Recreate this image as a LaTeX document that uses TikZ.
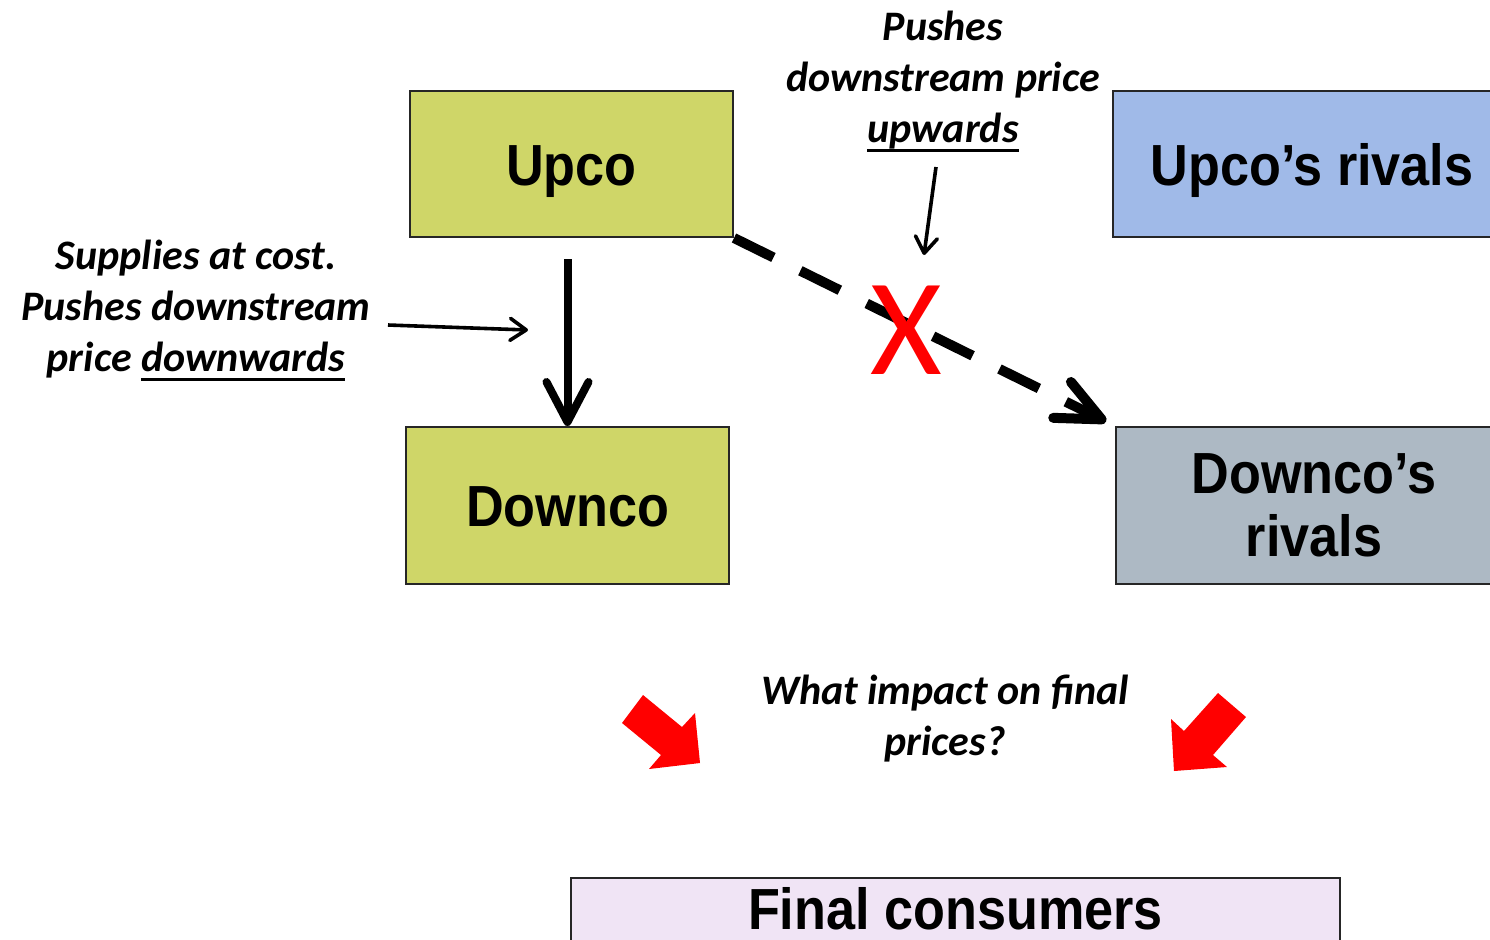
\documentclass[tikz,border=0pt]{standalone}
\usepackage{fontspec}
\usetikzlibrary{arrows.meta}
\newfontfamily\boxfont[FakeStretch=0.9]{Liberation Sans}
\newfontfamily\notefont{Carlito}
% thick underline used in the italic notes
\newcommand\undl[1]{\setbox0\hbox{#1}\rlap{\raisebox{-4.75pt}{\rule{\wd0}{1.5pt}}}\box0}
\definecolor{firmgreen}{HTML}{CFD668}
\definecolor{rivalblue}{HTML}{A0BAE8}
\definecolor{rivalgrey}{HTML}{ADB9C4}
\definecolor{consumerlilac}{HTML}{F0E4F5}
\begin{document}
\begin{tikzpicture}[x=0.5pt,y=-0.5pt,
  firm/.style={draw=black!85, line width=1pt, inner sep=0pt, align=center,
    font=\boxfont\bfseries\fontsize{29pt}{31.5pt}\selectfont},
  oneline/.style={text height=21pt, text depth=0pt},
  note/.style={inner sep=0pt, align=center,
    font=\notefont\bfseries\itshape\fontsize{21pt}{25.5pt}\selectfont},
  bigarrow/.style={line width=4pt,
    -{Straight Barb[round,length=20pt,width=21pt]}},
  dasharrow/.style={line width=5pt, dash pattern=on 22pt off 15pt,
    -{Straight Barb[round,length=22pt,width=20pt]}},
  thinarrow/.style={line width=1.8pt,
    -{Straight Barb[round,length=8pt,width=11pt]}},
  blockarrow/.style={fill=red}
]
\clip (0,0) rectangle (1490,939);

% firms and consumers
\node[firm, oneline, fill=firmgreen, minimum width=161.5pt, minimum height=73pt]
  (upco) at (571.5,164) {Upco};
\node[firm, oneline, fill=firmgreen, minimum width=161.5pt, minimum height=78.5pt]
  (downco) at (567.5,505.5) {Downco};
\node[firm, oneline, fill=rivalblue, minimum width=199pt, minimum height=73pt]
  (urivals) at (1312,164) {Upco’s rivals};
\node[firm, fill=rivalgrey, minimum width=198pt, minimum height=78.5pt]
  (drivals) at (1314,505.5) {Downco’s\\rivals};
\node[firm, fill=consumerlilac, text height=21pt, text depth=10pt,
  minimum width=384.5pt, minimum height=40pt]
  (consumers) at (955.5,918) {Final consumers};

% notes
\node[note] (upnote) at (943,82)
  {Pushes\\downstream price\\\undl{upwards}};
\node[note] (downnote) at (196,311)
  {Supplies at cost.\\Pushes downstream\\price \undl{downwards}};
\node[note] (question) at (945,719)
  {What impact on final\\prices?};

% supply links
\draw[bigarrow, shorten <=10.5pt] (downco.north |- upco.south) -- (downco.north);
\draw[dasharrow, shorten >=5pt] (upco.south east) -- (drivals.north west);

\node[text=red, inner sep=0pt, font=\notefont\fontsize{69pt}{69pt}\selectfont]
  (cross) at (906,330) {X};

% pointers from the notes
\coordinate (downfrom) at (388,325);
\coordinate (downto) at (528,330);
\draw[thinarrow] (downfrom) -- (downto);
\coordinate (upfrom) at (936,167);
\coordinate (upto) at (924,255);
\draw[thinarrow] (upfrom) -- (upto);

% block arrows towards the consumers
\fill[blockarrow] (643,695) -- (682,727) -- (695,713) -- (700,763)
  -- (649,769) -- (661,755) -- (622,723) -- cycle;
\fill[blockarrow] (1218,693) -- (1246,717) -- (1213,755) -- (1227,767)
  -- (1174,771) -- (1171,719) -- (1184,731) -- cycle;
\end{tikzpicture}
\end{document}
